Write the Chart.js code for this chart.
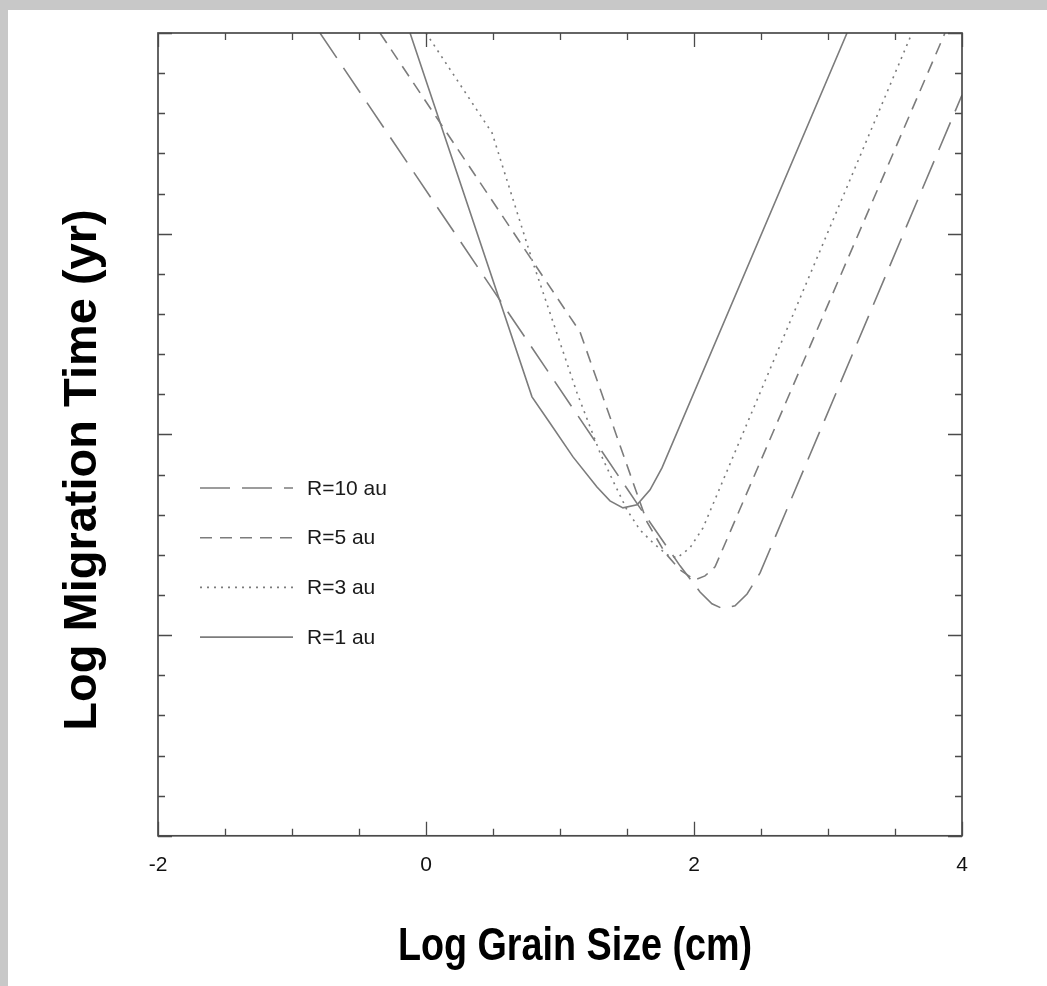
<!DOCTYPE html>
<html lang="en">
<head>
<meta charset="UTF-8">
<title>Migration time vs grain size</title>
<script src="https://cdn.jsdelivr.net/npm/chart.js"></script>
<style>
    html, body { margin: 0; padding: 0; }
    body { background: #c8c8c8; width: 1047px; height: 986px; overflow: hidden; position: relative; }
    #panel { position: absolute; left: 8px; top: 10px; width: 1039px; height: 976px; background: #fff; }
    canvas { display: block; }
</style>
</head>
<body>
<div id="panel"><canvas id="chart" width="1039" height="976"></canvas></div>
<script>
// curves: x = log grain size (cm), y = log migration time (unlabelled axis, 0..4)
const seriesNames = ['R=10 au', 'R=5 au', 'R=3 au', 'R=1 au'];

const r10X = [-0.791, 0.500, 1.597, 1.896, 2.045, 2.134, 2.216, 2.306, 2.396, 2.493, 4.000];
const r10Y = [4.000, 2.720, 1.634, 1.345, 1.215, 1.156, 1.131, 1.146, 1.205, 1.310, 3.691];

const r5X = [-0.343, 1.149, 1.649, 1.784, 1.896, 2.007, 2.082, 2.157, 3.873];
const r5Y = [4.000, 2.511, 1.564, 1.410, 1.325, 1.275, 1.295, 1.340, 4.000];

const r3X = [0.000, 0.493, 0.799, 1.127, 1.299, 1.396, 1.500, 1.597, 1.694, 1.799, 1.873, 1.970, 2.067, 3.627];
const r3Y = [4.000, 3.502, 2.854, 2.207, 1.908, 1.768, 1.624, 1.524, 1.460, 1.400, 1.385, 1.435, 1.534, 4.000];

const r1X = [-0.119, 0.791, 0.925, 1.097, 1.276, 1.373, 1.470, 1.575, 1.672, 1.761, 3.142];
const r1Y = [4.000, 2.187, 2.057, 1.888, 1.738, 1.669, 1.634, 1.649, 1.724, 1.833, 4.000];

// labelled x ticks (minor ticks every 0.5), y has major ticks every 1 and minor every 0.2
const xMajor = [-2, 0, 2, 4];
const yMajor = [0, 1, 2, 3, 4];

const lineColor = '#7c7c7c';
const axisColor = '#4a4a4a';

function pts(xs, ys) {
    return xs.map((v, i) => ({ x: v, y: ys[i] }));
}

function isMajor(list, v) {
    return list.some(m => Math.abs(m - v) < 1e-6);
}

// inward ticks on all four sides plus the box
const frameTicks = {
    id: 'frameTicks',
    afterDatasetsDraw(chart) {
        const { ctx, chartArea: a, scales: { x, y } } = chart;
        ctx.save();
        ctx.strokeStyle = axisColor;
        ctx.lineWidth = 1.3;
        ctx.beginPath();
        x.ticks.forEach(t => {
            const px = Math.round(x.getPixelForValue(t.value)) + 0.5;
            const len = isMajor(xMajor, t.value) ? 14 : 7;
            ctx.moveTo(px, a.bottom); ctx.lineTo(px, a.bottom - len);
            ctx.moveTo(px, a.top); ctx.lineTo(px, a.top + len);
        });
        y.ticks.forEach(t => {
            const py = Math.round(y.getPixelForValue(t.value)) + 0.5;
            const len = isMajor(yMajor, t.value) ? 14 : 7;
            ctx.moveTo(a.left, py); ctx.lineTo(a.left + len, py);
            ctx.moveTo(a.right, py); ctx.lineTo(a.right - len, py);
        });
        ctx.stroke();
        ctx.lineWidth = 1.7;
        ctx.strokeRect(a.left, a.top, a.right - a.left, a.bottom - a.top);
        ctx.restore();
    }
};

// legend inside the plot, drawn with each dataset's own dash pattern
const innerLegend = {
    id: 'innerLegend',
    afterDraw(chart) {
        const { ctx, chartArea: a } = chart;
        ctx.save();
        ctx.font = '21px "Liberation Sans", Arial, sans-serif';
        ctx.fillStyle = '#1a1a1a';
        ctx.textBaseline = 'middle';
        chart.data.datasets.forEach((ds, i) => {
            const yy = a.top + 455 + i * 49.7;
            ctx.strokeStyle = ds.borderColor;
            ctx.lineWidth = ds.borderWidth;
            ctx.setLineDash(ds.borderDash || []);
            ctx.beginPath();
            ctx.moveTo(a.left + 42, yy);
            ctx.lineTo(a.left + 135, yy);
            ctx.stroke();
            ctx.setLineDash([]);
            ctx.fillText(ds.label, a.left + 149, yy + 1);
        });
        ctx.restore();
    }
};

// axis titles (the x one is condensed in the original)
const axisTitles = {
    id: 'axisTitles',
    afterDraw(chart) {
        const { ctx } = chart;
        ctx.save();
        ctx.fillStyle = '#000';
        ctx.textAlign = 'center';
        ctx.textBaseline = 'middle';
        ctx.font = 'bold 46px "Liberation Sans", Arial, sans-serif';
        ctx.save();
        ctx.translate(567, 937);
        ctx.scale(0.82, 1);
        ctx.fillText('Log Grain Size (cm)', 0, 0);
        ctx.restore();
        ctx.font = 'bold 47px "Liberation Sans", Arial, sans-serif';
        ctx.translate(75, 460);
        ctx.rotate(-Math.PI / 2);
        ctx.fillText('Log Migration Time (yr)', 0, 0);
        ctx.restore();
    }
};

const styles = [
    { borderDash: [30, 12] },
    { borderDash: [12, 8] },
    { borderDash: [2, 5] },
    { borderDash: [] }
];
const allData = [pts(r10X, r10Y), pts(r5X, r5Y), pts(r3X, r3Y), pts(r1X, r1Y)];

new Chart(document.getElementById('chart'), {
    type: 'line',
    data: {
        datasets: allData.map((d, i) => ({
            label: seriesNames[i],
            data: d,
            borderColor: lineColor,
            borderWidth: 1.6,
            borderDash: styles[i].borderDash,
            pointRadius: 0,
            tension: 0,
            fill: false
        }))
    },
    options: {
        responsive: false,
        animation: false,
        devicePixelRatio: 1,
        layout: { padding: { left: 150, top: 23, right: 85, bottom: 91 } },
        plugins: {
            legend: { display: false },
            tooltip: { enabled: false }
        },
        scales: {
            x: {
                type: 'linear',
                min: -2,
                max: 4,
                grid: { display: false, drawTicks: false },
                border: { display: false },
                ticks: {
                    stepSize: 0.5,
                    autoSkip: false,
                    maxRotation: 0,
                    padding: 17,
                    color: '#111',
                    font: { family: '"Liberation Sans", Arial, sans-serif', size: 21 },
                    callback: v => isMajor(xMajor, v) ? String(Math.round(v)) : ''
                }
            },
            y: {
                type: 'linear',
                min: 0,
                max: 4,
                grid: { display: false, drawTicks: false },
                border: { display: false },
                ticks: { display: false, stepSize: 0.2 }
            }
        }
    },
    plugins: [frameTicks, innerLegend, axisTitles]
});
</script>
</body>
</html>
